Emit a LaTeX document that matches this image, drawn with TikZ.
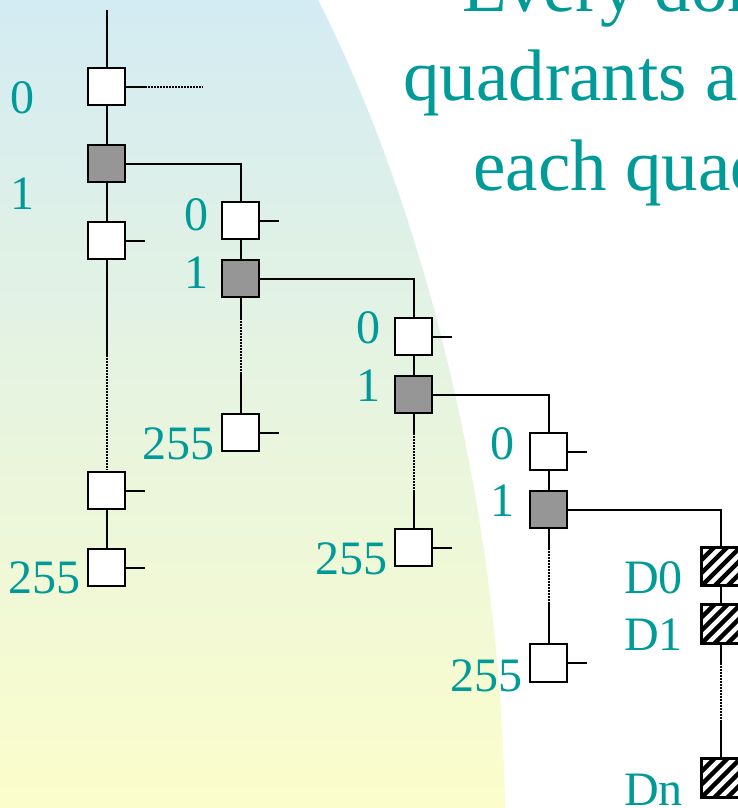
\documentclass[tikz,border=0pt]{standalone}
\usepackage{fontspec}
\setmainfont{Liberation Serif}
\usetikzlibrary{calc}
\definecolor{tealtxt}{HTML}{009A98}
\definecolor{boxgray}{HTML}{969696}
\definecolor{bgtop}{HTML}{D3EBF3}
\definecolor{bgmid}{HTML}{E6F3E2}
\definecolor{bgbot}{HTML}{FBFDCB}
\begin{document}
\begin{tikzpicture}[x=1pt,y=-1pt,
  box/.style={draw=black, line width=2.2pt, minimum size=37.5pt, inner sep=0pt, fill=white},
  gbox/.style={box, fill=boxgray},
  conn/.style={line width=2pt},
  dots/.style={line width=2pt, dash pattern=on 1.5pt off 1.5pt},
  lbl/.style={text=tealtxt, font=\fontsize{48}{50}\selectfont, inner sep=0pt},
  ttl/.style={text=tealtxt, font=\fontsize{73}{80}\selectfont, inner sep=0pt, anchor=base west},
  hatch/.style={line width=4.5pt, black}]
\useasboundingbox (0,0) rectangle (738,808);
\clip (0,0) rectangle (738,808);
\fill[white] (0,0) rectangle (738,808);
\shade[top color=bgtop, middle color=bgmid, bottom color=bgbot]
  (0,0) -- (318,0) .. controls (420,200) and (500,500) .. (505,808) -- (0,808) -- cycle;

% title text
\node[ttl] (t1) at (462,12) {Every domain is};
\node[ttl] (t2) at (403,100) {quadrants and};
\node[ttl] (t3) at (473,190) {each quadrant};

% column 1
\coordinate (top1) at (106.5,10);
\node[box]  (a0) at (106.5,86.5) {};
\node[gbox] (a1) at (106.5,163.5) {};
\node[box]  (a2) at (106.5,240.5) {};
\node[box]  (a3) at (106.5,490.5) {};
\node[box]  (a4) at (106.5,567.5) {};
\node[lbl] (la0) at (22,98) {0};
\node[lbl] (la1) at (22,194) {1};
\node[lbl, anchor=east] (la4) at (81,578) {255};
\draw[conn] (top1) -- (a0);
\draw[conn] (a0) -- (a1);
\draw[conn] (a1) -- (a2);
\coordinate (a2s) at (106.5,355);
\coordinate (a2d) at (106.5,470);
\draw[conn] (a2) -- (a2s);
\draw[dots] (a2s) -- (a2d);
\draw[conn] (a3) -- (a4);
\coordinate (sa0) at (145,86.5);
\coordinate (sa0d) at (203,86.5);
\draw[conn] (a0.east) -- (sa0);
\draw[dots] (sa0) -- (sa0d);
\coordinate (sa2) at (145,240.5);
\coordinate (sa3) at (145,490.5);
\coordinate (sa4) at (145,567.5);
\draw[conn] (a2.east) -- (sa2);
\draw[conn] (a3.east) -- (sa3);
\draw[conn] (a4.east) -- (sa4);

% column 2
\node[box]  (b0) at (240.5,220.5) {};
\node[gbox] (b1) at (240.5,278.5) {};
\node[box]  (b2) at (240.5,432.5) {};
\node[lbl] (lb0) at (196,215) {0};
\node[lbl] (lb1) at (196,273) {1};
\node[lbl, anchor=east] (lb2) at (215,444) {255};
\draw[conn] (a1.east) -| (b0.north);
\draw[conn] (b0) -- (b1);
\coordinate (b1s) at (240.5,318);
\coordinate (b1d) at (240.5,374);
\draw[conn] (b1) -- (b1s);
\draw[dots] (b1s) -- (b1d);
\draw[conn] (b1d) -- (b2);
\coordinate (sb0) at (279,220.5);
\coordinate (sb2) at (279,432.5);
\draw[conn] (b0.east) -- (sb0);
\draw[conn] (b2.east) -- (sb2);

% column 3
\node[box]  (c0) at (413.5,336.5) {};
\node[gbox] (c1) at (413.5,394.5) {};
\node[box]  (c2) at (413.5,547.5) {};
\node[lbl] (lc0) at (368,328) {0};
\node[lbl] (lc1) at (368,386) {1};
\node[lbl, anchor=east] (lc2) at (388,559) {255};
\draw[conn] (b1.east) -| (c0.north);
\draw[conn] (c0) -- (c1);
\coordinate (c1s) at (413.5,433);
\coordinate (c1d) at (413.5,490);
\draw[conn] (c1) -- (c1s);
\draw[dots] (c1s) -- (c1d);
\draw[conn] (c1d) -- (c2);
\coordinate (sc0) at (452,336.5);
\coordinate (sc2) at (452,547.5);
\draw[conn] (c0.east) -- (sc0);
\draw[conn] (c2.east) -- (sc2);

% column 4
\node[box]  (d0) at (548.5,451.5) {};
\node[gbox] (d1) at (548.5,509.5) {};
\node[box]  (d2) at (548.5,663) {};
\node[lbl] (ld0) at (502,444) {0};
\node[lbl] (ld1) at (502,501) {1};
\node[lbl, anchor=east] (ld2) at (523,676) {255};
\draw[conn] (c1.east) -| (d0.north);
\draw[conn] (d0) -- (d1);
\coordinate (d1s) at (548.5,548);
\coordinate (d1d) at (548.5,604);
\draw[conn] (d1) -- (d1s);
\draw[dots] (d1s) -- (d1d);
\draw[conn] (d1d) -- (d2);
\coordinate (sd0) at (587,451.5);
\coordinate (sd2) at (587,663);
\draw[conn] (d0.east) -- (sd0);
\draw[conn] (d2.east) -- (sd2);

% column 5 (hatched)
\foreach \n/\y in {e0/566.5, e1/624, en/778} {
  \node[box] (\n) at (721,\y) {};
  \begin{scope}
    \clip (\n.south west) rectangle (\n.north east);
    \foreach \k in {-3,...,3}
      \draw[hatch] ($(\n.center)+(\k*13-22,22)$) -- ($(\n.center)+(\k*13+22,-22)$);
  \end{scope}
  \draw[line width=2.2pt] (\n.south west) rectangle (\n.north east);
}
\node[lbl, anchor=west] (le0) at (624,578) {D0};
\node[lbl, anchor=west] (le1) at (624,635) {D1};
\node[lbl, anchor=west] (len) at (624,790) {Dn};
\draw[conn] (d1.east) -| (e0.north);
\draw[conn] (e0) -- (e1);
\coordinate (e1s) at (721,663);
\coordinate (e1d) at (721,720);
\draw[conn] (e1) -- (e1s);
\draw[dots] (e1s) -- (e1d);
\draw[conn] (e1d) -- (en);
\end{tikzpicture}
\end{document}
